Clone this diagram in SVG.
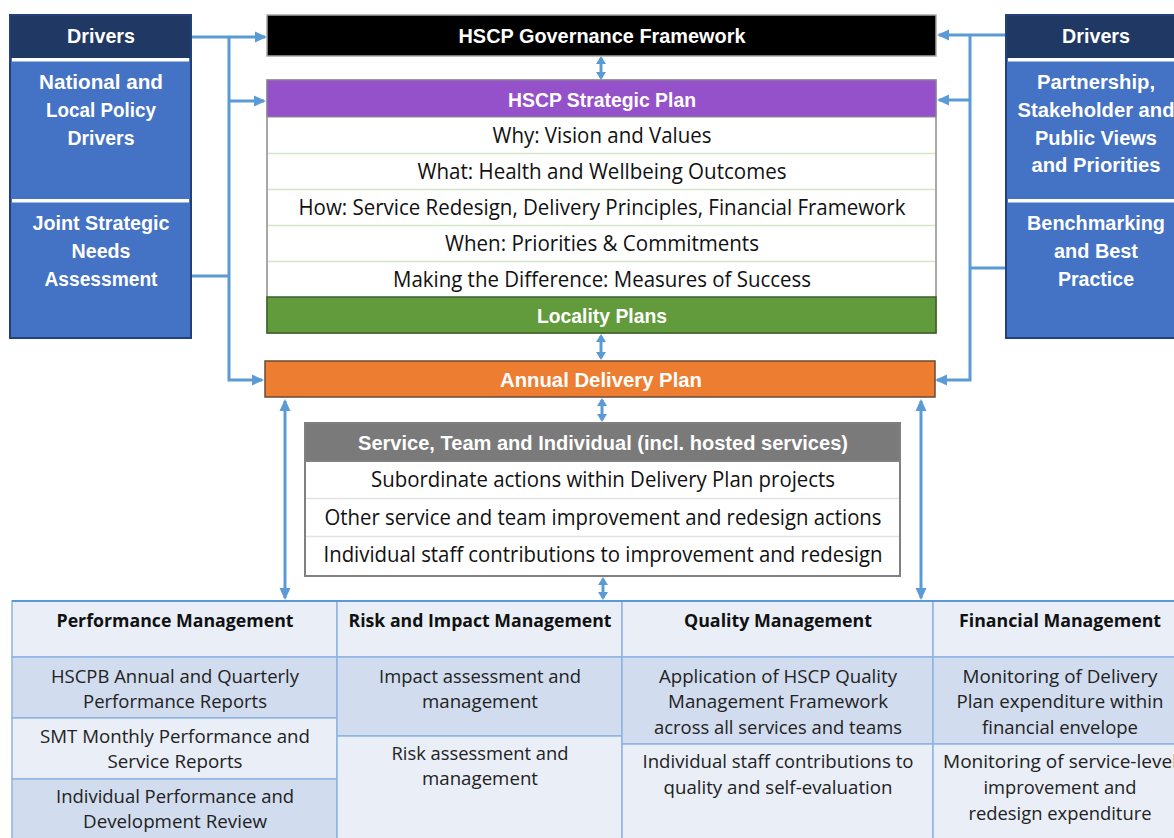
<svg xmlns="http://www.w3.org/2000/svg" width="1174" height="838" viewBox="0 0 1174 838">
  <defs>
    <marker id="arr" viewBox="0 0 12 12" refX="10" refY="6" markerWidth="12" markerHeight="12" markerUnits="userSpaceOnUse" orient="auto-start-reverse">
      <path d="M0,0.5 L12,6 L0,11.5 z" fill="#5b9bd5"/>
    </marker>
    <marker id="arrS" viewBox="0 0 8 10" refX="6" refY="5" markerWidth="8" markerHeight="10" markerUnits="userSpaceOnUse" orient="auto-start-reverse">
      <path d="M0,0 L8,5 L0,10 z" fill="#5b9bd5"/>
    </marker>
    <style>
      .hd { font-family: "Liberation Sans", Arial, sans-serif; font-weight: bold; font-size: 20px; fill: #ffffff; text-anchor: middle; }
      .row { font-family: "Open Sans", "Liberation Sans", sans-serif; font-size: 21px; fill: #111111; text-anchor: middle; }
      .th { font-family: "Open Sans", "Liberation Sans", sans-serif; font-weight: bold; font-size: 18px; fill: #111111; text-anchor: middle; }
      .td { font-family: "Open Sans", "Liberation Sans", sans-serif; font-size: 19px; fill: #222222; text-anchor: middle; }
      .conn { fill: none; stroke: #5b9bd5; stroke-width: 3; }
      .cellL { fill: #e9eef7; stroke: #8eb4e3; stroke-width: 1.5; }
      .cellD { fill: #d1dcef; stroke: #8eb4e3; stroke-width: 1.5; }
      .sep { stroke: #d3e6c8; stroke-width: 1.5; }
      .sepG { stroke: #e2e2e2; stroke-width: 1.5; }
    </style>
  </defs>

  <rect width="1174" height="838" fill="#ffffff"/>

  <!-- connectors -->
  <g id="connectors">
    <!-- left drivers feed -->
    <path class="conn" d="M191,37 H265" marker-end="url(#arr)"/>
    <path class="conn" d="M229,37 V380 H262" marker-end="url(#arr)"/>
    <path class="conn" d="M229,101 H264" marker-end="url(#arr)"/>
    <path class="conn" d="M191,276 H229"/>
    <!-- right drivers feed -->
    <path class="conn" d="M1006,35 H939" marker-end="url(#arr)"/>
    <path class="conn" d="M970,35 V380 H937" marker-end="url(#arr)"/>
    <path class="conn" d="M970,100 H939" marker-end="url(#arr)"/>
    <path class="conn" d="M1006,268 H970"/>
    <!-- vertical two-way links -->
    <path class="conn" d="M601,58 V78" marker-start="url(#arrS)" marker-end="url(#arrS)"/>
    <path class="conn" d="M601,336 V358" marker-start="url(#arrS)" marker-end="url(#arrS)"/>
    <path class="conn" d="M602,400 V420" marker-start="url(#arrS)" marker-end="url(#arrS)"/>
    <path class="conn" d="M603,579 V598" marker-start="url(#arrS)" marker-end="url(#arrS)"/>
    <path class="conn" d="M285,401 V598" marker-start="url(#arr)" marker-end="url(#arr)"/>
    <path class="conn" d="M921,401 V598" marker-start="url(#arr)" marker-end="url(#arr)"/>
  </g>

  <!-- left drivers -->
  <g id="drivers-left">
    <rect x="10" y="15" width="181" height="323" fill="#4472c4" stroke="#23407a" stroke-width="2"/>
    <rect x="11" y="16" width="179" height="42" fill="#203864"/>
    <rect x="12" y="58" width="177" height="3.5" fill="#ffffff"/>
    <rect x="12" y="199" width="177" height="3.5" fill="#ffffff"/>
    <text class="hd" x="101" y="43" textLength="68" lengthAdjust="spacingAndGlyphs">Drivers</text>
    <text class="hd" x="101" y="89" font-size="21" textLength="124" lengthAdjust="spacingAndGlyphs">National and</text>
    <text class="hd" x="101" y="117" font-size="21" textLength="110" lengthAdjust="spacingAndGlyphs">Local Policy</text>
    <text class="hd" x="101" y="145" font-size="21" textLength="67" lengthAdjust="spacingAndGlyphs">Drivers</text>
    <text class="hd" x="101" y="230" font-size="21" textLength="137" lengthAdjust="spacingAndGlyphs">Joint Strategic</text>
    <text class="hd" x="101" y="258" font-size="21" textLength="59" lengthAdjust="spacingAndGlyphs">Needs</text>
    <text class="hd" x="101" y="286" font-size="21" textLength="113" lengthAdjust="spacingAndGlyphs">Assessment</text>
  </g>

  <!-- right drivers -->
  <g id="drivers-right">
    <rect x="1006" y="15" width="181" height="323" fill="#4472c4" stroke="#23407a" stroke-width="2"/>
    <rect x="1007" y="16" width="179" height="42" fill="#203864"/>
    <rect x="1008" y="58" width="177" height="3.5" fill="#ffffff"/>
    <rect x="1008" y="199" width="177" height="3.5" fill="#ffffff"/>
    <text class="hd" x="1096" y="43" textLength="68" lengthAdjust="spacingAndGlyphs">Drivers</text>
    <text class="hd" x="1096" y="89" font-size="21" textLength="118" lengthAdjust="spacingAndGlyphs">Partnership,</text>
    <text class="hd" x="1096" y="117" font-size="21" textLength="157" lengthAdjust="spacingAndGlyphs">Stakeholder and</text>
    <text class="hd" x="1096" y="145" font-size="21" textLength="122" lengthAdjust="spacingAndGlyphs">Public Views</text>
    <text class="hd" x="1096" y="172" font-size="21" textLength="129" lengthAdjust="spacingAndGlyphs">and Priorities</text>
    <text class="hd" x="1096" y="230" font-size="21" textLength="138" lengthAdjust="spacingAndGlyphs">Benchmarking</text>
    <text class="hd" x="1096" y="258" font-size="21" textLength="84" lengthAdjust="spacingAndGlyphs">and Best</text>
    <text class="hd" x="1096" y="286" font-size="21" textLength="76" lengthAdjust="spacingAndGlyphs">Practice</text>
  </g>

  <!-- governance framework -->
  <g id="governance">
    <rect x="267" y="15" width="669" height="41" fill="#000000" stroke="#a6a6a6" stroke-width="1.5"/>
    <text class="hd" x="602" y="43" textLength="287" lengthAdjust="spacingAndGlyphs">HSCP Governance Framework</text>
  </g>

  <!-- strategic plan with locality plans -->
  <g id="strategic-plan">
    <rect x="267" y="80" width="669" height="253" fill="#ffffff" stroke="#8c8c8c" stroke-width="1.5"/>
    <rect x="267" y="80" width="669" height="37" fill="#9551c9" stroke="#8c8c8c" stroke-width="1"/>
    <text class="hd" x="602" y="107" textLength="188" lengthAdjust="spacingAndGlyphs">HSCP Strategic Plan</text>
    <line class="sep" x1="268" y1="153.5" x2="935" y2="153.5"/>
    <line class="sep" x1="268" y1="189.5" x2="935" y2="189.5"/>
    <line class="sep" x1="268" y1="225.5" x2="935" y2="225.5"/>
    <line class="sep" x1="268" y1="261.5" x2="935" y2="261.5"/>
    <text class="row" x="602" y="143" textLength="219" lengthAdjust="spacingAndGlyphs">Why: Vision and Values</text>
    <text class="row" x="602" y="179" textLength="369" lengthAdjust="spacingAndGlyphs">What: Health and Wellbeing Outcomes</text>
    <text class="row" x="602" y="215" textLength="607" lengthAdjust="spacingAndGlyphs">How: Service Redesign, Delivery Principles, Financial Framework</text>
    <text class="row" x="602" y="251" textLength="314" lengthAdjust="spacingAndGlyphs">When: Priorities &amp; Commitments</text>
    <text class="row" x="602" y="287" textLength="418" lengthAdjust="spacingAndGlyphs">Making the Difference: Measures of Success</text>
  </g>
  <g id="locality-plans">
    <rect x="267" y="297" width="669" height="36" fill="#619b3c" stroke="#3c5f27" stroke-width="1.5"/>
    <text class="hd" x="602" y="323" textLength="130" lengthAdjust="spacingAndGlyphs">Locality Plans</text>
  </g>

  <!-- annual delivery plan -->
  <g id="annual-delivery">
    <rect x="265" y="361" width="670" height="36" fill="#ed7d31" stroke="#6b4a33" stroke-width="1.5"/>
    <text class="hd" x="601" y="387" textLength="202" lengthAdjust="spacingAndGlyphs">Annual Delivery Plan</text>
  </g>

  <!-- service, team and individual -->
  <g id="service-team">
    <rect x="305" y="423" width="595" height="153" fill="#ffffff" stroke="#808080" stroke-width="2"/>
    <rect x="305" y="423" width="595" height="38" fill="#7a7a7a" stroke="#808080" stroke-width="2"/>
    <text class="hd" x="603" y="450" textLength="490" lengthAdjust="spacingAndGlyphs">Service, Team and Individual (incl. hosted services)</text>
    <line class="sepG" x1="306" y1="498.5" x2="899" y2="498.5"/>
    <line class="sepG" x1="306" y1="536.5" x2="899" y2="536.5"/>
    <text class="row" x="603" y="487" textLength="464" lengthAdjust="spacingAndGlyphs">Subordinate actions within Delivery Plan projects</text>
    <text class="row" x="603" y="525" textLength="557" lengthAdjust="spacingAndGlyphs">Other service and team improvement and redesign actions</text>
    <text class="row" x="603" y="562" textLength="559" lengthAdjust="spacingAndGlyphs">Individual staff contributions to improvement and redesign</text>
  </g>

  <!-- management table -->
  <g id="performance-management">
    <rect class="cellL" x="12" y="601" width="325" height="56"/>
    <rect class="cellD" x="12" y="657" width="325" height="61"/>
    <rect class="cellL" x="12" y="718" width="325" height="61"/>
    <rect class="cellD" x="12" y="779" width="325" height="70"/>
    <text class="th" x="175" y="627" textLength="237" lengthAdjust="spacingAndGlyphs">Performance Management</text>
    <text class="td" x="175" y="683" textLength="248" lengthAdjust="spacingAndGlyphs">HSCPB Annual and Quarterly</text>
    <text class="td" x="175" y="708" textLength="184" lengthAdjust="spacingAndGlyphs">Performance Reports</text>
    <text class="td" x="175" y="743" textLength="270" lengthAdjust="spacingAndGlyphs">SMT Monthly Performance and</text>
    <text class="td" x="175" y="768" textLength="135" lengthAdjust="spacingAndGlyphs">Service Reports</text>
    <text class="td" x="175" y="803" textLength="238" lengthAdjust="spacingAndGlyphs">Individual Performance and</text>
    <text class="td" x="175" y="828" textLength="184" lengthAdjust="spacingAndGlyphs">Development Review</text>
  </g>
  <g id="risk-management">
    <rect class="cellL" x="337" y="601" width="285" height="56"/>
    <rect class="cellD" x="337" y="657" width="285" height="79"/>
    <rect class="cellL" x="337" y="736" width="285" height="113"/>
    <text class="th" x="480" y="627" textLength="263" lengthAdjust="spacingAndGlyphs">Risk and Impact Management</text>
    <text class="td" x="480" y="683" textLength="202" lengthAdjust="spacingAndGlyphs">Impact assessment and</text>
    <text class="td" x="480" y="708" textLength="116" lengthAdjust="spacingAndGlyphs">management</text>
    <text class="td" x="480" y="760" textLength="177" lengthAdjust="spacingAndGlyphs">Risk assessment and</text>
    <text class="td" x="480" y="785" textLength="116" lengthAdjust="spacingAndGlyphs">management</text>
  </g>
  <g id="quality-management">
    <rect class="cellL" x="622" y="601" width="311" height="56"/>
    <rect class="cellD" x="622" y="657" width="311" height="87"/>
    <rect class="cellL" x="622" y="744" width="311" height="105"/>
    <text class="th" x="778" y="627" textLength="188" lengthAdjust="spacingAndGlyphs">Quality Management</text>
    <text class="td" x="778" y="683" textLength="238" lengthAdjust="spacingAndGlyphs">Application of HSCP Quality</text>
    <text class="td" x="778" y="708" textLength="220" lengthAdjust="spacingAndGlyphs">Management Framework</text>
    <text class="td" x="778" y="734" textLength="248" lengthAdjust="spacingAndGlyphs">across all services and teams</text>
    <text class="td" x="778" y="768" textLength="271" lengthAdjust="spacingAndGlyphs">Individual staff contributions to</text>
    <text class="td" x="778" y="794" textLength="229" lengthAdjust="spacingAndGlyphs">quality and self-evaluation</text>
  </g>
  <g id="financial-management">
    <rect class="cellL" x="933" y="601" width="254" height="56"/>
    <rect class="cellD" x="933" y="657" width="254" height="87"/>
    <rect class="cellL" x="933" y="744" width="254" height="105"/>
    <text class="th" x="1060" y="627" textLength="202" lengthAdjust="spacingAndGlyphs">Financial Management</text>
    <text class="td" x="1060" y="683" textLength="195" lengthAdjust="spacingAndGlyphs">Monitoring of Delivery</text>
    <text class="td" x="1060" y="708" textLength="207" lengthAdjust="spacingAndGlyphs">Plan expenditure within</text>
    <text class="td" x="1060" y="734" textLength="156" lengthAdjust="spacingAndGlyphs">financial envelope</text>
    <text class="td" x="1060" y="768" textLength="234" lengthAdjust="spacingAndGlyphs">Monitoring of service-level</text>
    <text class="td" x="1060" y="794" textLength="153" lengthAdjust="spacingAndGlyphs">improvement and</text>
    <text class="td" x="1060" y="820" textLength="183" lengthAdjust="spacingAndGlyphs">redesign expenditure</text>
  </g>
  <line x1="12" y1="601" x2="1174" y2="601" stroke="#5b9bd5" stroke-width="2"/>
</svg>
